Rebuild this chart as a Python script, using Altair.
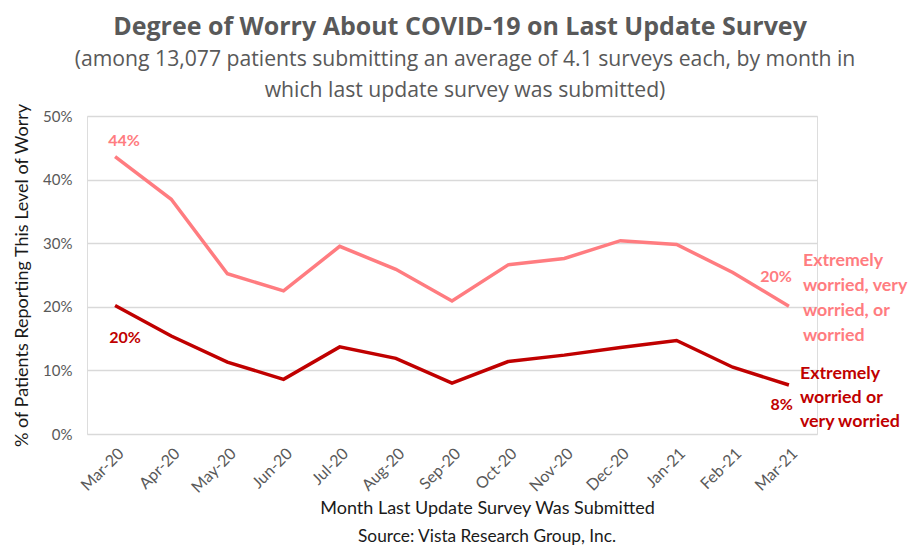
import altair as alt
import pandas as pd

months = ["Mar-20", "Apr-20", "May-20", "Jun-20", "Jul-20", "Aug-20", "Sep-20",
          "Oct-20", "Nov-20", "Dec-20", "Jan-21", "Feb-21", "Mar-21"]
worried_any = [43.6, 36.9, 25.2, 22.5, 29.5, 25.9, 20.9, 26.6, 27.6, 30.4, 29.8, 25.4, 20.1]
worried_high = [20.2, 15.4, 11.3, 8.6, 13.7, 11.9, 8.0, 11.4, 12.4, 13.6, 14.7, 10.5, 7.7]
series_names = ["Extremely worried, very worried, or worried",
                "Extremely worried or very worried"]
series_labels = ["Extremely\nworried, very\nworried, or\nworried",
                 "Extremely\nworried or\nvery worried"]
colors = ["#FF7C80", "#C00000"]
y_ticks = [0, 10, 20, 30, 40, 50]

title_text = "Degree of Worry About COVID-19 on Last Update Survey"
subtitle_lines = ["(among 13,077 patients submitting an average of 4.1 surveys each, by month in",
                  "which last update survey was submitted)"]
x_title = "Month Last Update Survey Was Submitted"
y_title = "% of Patients Reporting This Level of Worry"
source_text = "Source: Vista Research Group, Inc."

rows = []
for name, vals in zip(series_names, [worried_any, worried_high]):
    for m, v in zip(months, vals):
        rows.append({"month": m, "value": v, "series": name})
df = pd.DataFrame(rows)

W, H = 730, 318

x_enc = alt.X("month:N", sort=months,
              scale=alt.Scale(paddingInner=0, paddingOuter=0.5),
              axis=alt.Axis(title=x_title, labelAngle=-45, labelFont="Lato",
                            labelFontSize=16, labelColor="#595959", labelPadding=11,
                            ticks=False, domain=False, grid=False,
                            titleFont="Lato", titleFontSize=18, titleFontWeight="normal",
                            titleColor="#1a1a1a", titleX=400, titleY=74,
                            titleBaseline="middle", titleAnchor="start", titleAlign="center"))
y_enc = alt.Y("value:Q",
              scale=alt.Scale(domain=[0, 50], nice=False),
              axis=alt.Axis(title=y_title, values=y_ticks,
                            labelExpr="datum.value + '%'", labelFont="Lato",
                            labelFontSize=15, labelColor="#595959", labelPadding=15,
                            ticks=False, domain=False, grid=True,
                            gridColor="#d9d9d9", gridWidth=1.5,
                            titleFont="Lato", titleFontSize=18, titleFontWeight="normal",
                            titleColor="#1a1a1a", titlePadding=11))
color_enc = alt.Color("series:N", scale=alt.Scale(domain=series_names, range=colors),
                      legend=None)

lines = alt.Chart(df).mark_line(strokeWidth=3.5).encode(
    x=x_enc, y=y_enc, color=color_enc, detail="series:N")

first = df[df["month"] == months[0]]
last = df[df["month"] == months[-1]]

def vlabel(data, name, dx, dy, align):
    return alt.Chart(data[data["series"] == name]).mark_text(
        font="Lato", fontWeight="bold", fontSize=16, align=align,
        baseline="middle", dx=dx, dy=dy).transform_calculate(
        lbl="format(datum.value, '.0f') + '%'").encode(
        x=alt.X("month:N", sort=months), y="value:Q",
        text="lbl:N", color=color_enc)

lab_first_any = vlabel(first, series_names[0], 9, -16, "center")
lab_first_high = vlabel(first, series_names[1], 10, 32, "center")
lab_last_any = vlabel(last, series_names[0], 3, -29, "right")
lab_last_high = vlabel(last, series_names[1], 4, 20, "right")

last_names = last.copy()
last_names["label"] = series_labels

name_any = alt.Chart(last_names[last_names["series"] == series_names[0]]).mark_text(
    font="Lato", fontWeight="bold", fontSize=17.8, align="left", baseline="top",
    lineBreak="\n", lineHeight=25, dx=14, dy=-54).encode(
    x=alt.X("month:N", sort=months), y="value:Q", text="label:N", color=color_enc)
name_high = alt.Chart(last_names[last_names["series"] == series_names[1]]).mark_text(
    font="Lato", fontWeight="bold", fontSize=17.8, align="left", baseline="top",
    lineBreak="\n", lineHeight=24, dx=11, dy=-20).encode(
    x=alt.X("month:N", sort=months), y="value:Q", text="label:N", color=color_enc)

title = alt.Chart(pd.DataFrame({"t": [title_text]})).mark_text(
    font="Open Sans", fontWeight="bold", fontSize=25, color="#595959",
    align="center", baseline="alphabetic").encode(
    x=alt.value(373), y=alt.value(-81), text="t:N")

sub1 = alt.Chart(pd.DataFrame({"t": [subtitle_lines[0]]})).mark_text(
    font="Open Sans", fontSize=21.2, color="#595959", align="center",
    baseline="alphabetic").encode(x=alt.value(378), y=alt.value(-50), text="t:N")
sub2 = alt.Chart(pd.DataFrame({"t": [subtitle_lines[1]]})).mark_text(
    font="Open Sans", fontSize=21.2, color="#595959", align="center",
    baseline="alphabetic").encode(x=alt.value(378), y=alt.value(-19), text="t:N")

source = alt.Chart(pd.DataFrame({"t": [source_text]})).mark_text(
    font="Lato", fontSize=17.3, color="#1a1a1a", align="center",
    baseline="middle").encode(x=alt.value(400), y=alt.value(421), text="t:N")

chart = alt.layer(
    lines, lab_first_any, lab_first_high, lab_last_any, lab_last_high,
    name_any, name_high, title, sub1, sub2, source
).properties(
    width=W, height=H,
    autosize=alt.AutoSizeParams(type="none"),
    padding={"left": 79, "top": 108, "right": 93, "bottom": 112},
).configure_view(stroke=None).configure(background="white")

chart.save("out.html", embed_options={"renderer": "svg", "actions": False})
